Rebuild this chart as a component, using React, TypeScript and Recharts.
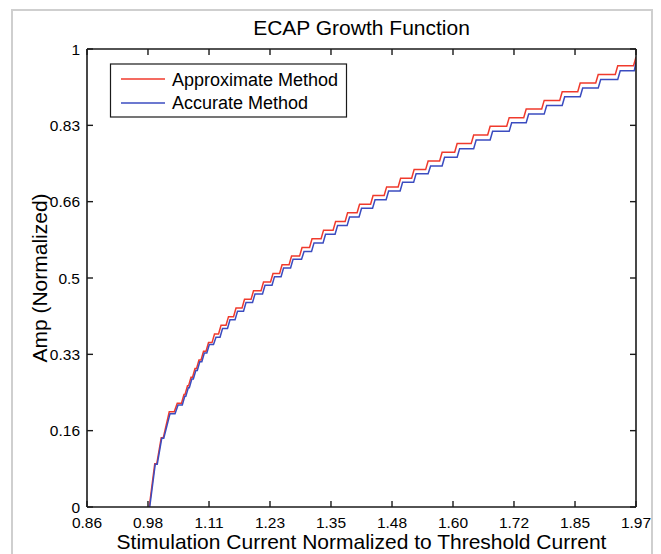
import { LineChart, Line, XAxis, YAxis } from 'recharts'

const xTicks = [0.86, 0.9833, 1.1067, 1.23, 1.3533, 1.4767, 1.6, 1.7233, 1.8467, 1.97]
const xTickLabels = ['0.86', '0.98', '1.11', '1.23', '1.35', '1.48', '1.60', '1.72', '1.85', '1.97']
const yTicks = [0, 0.1667, 0.3333, 0.5, 0.6667, 0.8333, 1]
const yTickLabels = ['0', '0.16', '0.33', '0.5', '0.66', '0.83', '1']

const seriesNames = ['Approximate Method', 'Accurate Method']
const seriesColors = ['#f03a2c', '#3b4cc0']

// staircase corners: [current, amp]
const approxCurve: [number, number][] = [
  [0.9858, 0], [0.997, 0.0944], [1.001, 0.0944], [1.0101, 0.1511], [1.0142, 0.1511],
  [1.0263, 0.2078], [1.0364, 0.2078], [1.0425, 0.2267], [1.0511, 0.2267], [1.0561, 0.2456],
  [1.0582, 0.2456], [1.0632, 0.2645], [1.0653, 0.2645], [1.0703, 0.2834],
  [1.0734, 0.2834], [1.0784, 0.3022], [1.0814, 0.3022], [1.0864, 0.3211],
  [1.0906, 0.3211], [1.0956, 0.34], [1.1007, 0.34], [1.1057, 0.3589],
  [1.1128, 0.3589], [1.1178, 0.3778], [1.126, 0.3778], [1.131, 0.3967],
  [1.1411, 0.3967], [1.1461, 0.4156], [1.1563, 0.4156], [1.1613, 0.4345],
  [1.1735, 0.4345], [1.1785, 0.4534], [1.1917, 0.4534], [1.1967, 0.4723],
  [1.2119, 0.4723], [1.2169, 0.4911], [1.2311, 0.4911], [1.2361, 0.51],
  [1.2494, 0.51], [1.2544, 0.5289], [1.2686, 0.5289], [1.2736, 0.5478],
  [1.2898, 0.5478], [1.2948, 0.5667], [1.31, 0.5667], [1.315, 0.5856],
  [1.3333, 0.5856], [1.3383, 0.6045], [1.3576, 0.6045], [1.3626, 0.6234],
  [1.3819, 0.6234], [1.3869, 0.6423], [1.4061, 0.6423], [1.4111, 0.6612],
  [1.4334, 0.6612], [1.4384, 0.68], [1.4608, 0.68], [1.4658, 0.6989],
  [1.4891, 0.6989], [1.4941, 0.7178], [1.5164, 0.7178], [1.5214, 0.7367],
  [1.5447, 0.7367], [1.5497, 0.7556], [1.573, 0.7556], [1.578, 0.7745],
  [1.6034, 0.7745], [1.6084, 0.7934], [1.6368, 0.7934], [1.6418, 0.8123],
  [1.6701, 0.8123], [1.6751, 0.8312], [1.7086, 0.8312], [1.7136, 0.8501],
  [1.743, 0.8501], [1.748, 0.8689], [1.7794, 0.8689], [1.7844, 0.8878],
  [1.8158, 0.8878], [1.8208, 0.9067], [1.8522, 0.9067], [1.8572, 0.9256],
  [1.8886, 0.9256], [1.8936, 0.9445], [1.9281, 0.9445], [1.9331, 0.9634],
  [1.965, 0.9634], [1.97, 0.9823],
]

const accurateCurve: [number, number][] = [
  [0.9868, 0], [0.998, 0.0934], [1.002, 0.0934], [1.0111, 0.1501], [1.0152, 0.1501],
  [1.0279, 0.2038], [1.038, 0.2038], [1.0441, 0.2227], [1.0527, 0.2227], [1.0577, 0.2416],
  [1.0598, 0.2416], [1.0648, 0.2605], [1.0669, 0.2605], [1.0719, 0.2794],
  [1.075, 0.2794], [1.08, 0.2982], [1.083, 0.2982], [1.088, 0.3171],
  [1.0922, 0.3171], [1.0972, 0.336], [1.1023, 0.336], [1.1073, 0.3549],
  [1.1158, 0.3549], [1.1208, 0.3708], [1.129, 0.3708], [1.134, 0.3897],
  [1.1441, 0.3897], [1.1491, 0.4086], [1.1593, 0.4086], [1.1643, 0.4275],
  [1.1765, 0.4275], [1.1815, 0.4464], [1.1947, 0.4464], [1.1997, 0.4653],
  [1.2149, 0.4653], [1.2199, 0.4841], [1.2341, 0.4841], [1.2391, 0.503],
  [1.2524, 0.503], [1.2574, 0.5219], [1.2716, 0.5219], [1.2766, 0.5408],
  [1.2938, 0.5408], [1.2988, 0.5577], [1.314, 0.5577], [1.319, 0.5766],
  [1.3373, 0.5766], [1.3423, 0.5955], [1.3616, 0.5955], [1.3666, 0.6144],
  [1.3859, 0.6144], [1.3909, 0.6333], [1.4101, 0.6333], [1.4151, 0.6522],
  [1.4374, 0.6522], [1.4424, 0.671], [1.4648, 0.671], [1.4698, 0.6899],
  [1.4931, 0.6899], [1.4981, 0.7088], [1.5204, 0.7088], [1.5254, 0.7277],
  [1.5497, 0.7277], [1.5547, 0.7446], [1.578, 0.7446], [1.583, 0.7635],
  [1.6084, 0.7635], [1.6134, 0.7824], [1.6418, 0.7824], [1.6468, 0.8013],
  [1.6751, 0.8013], [1.6801, 0.8202], [1.7136, 0.8202], [1.7186, 0.8391],
  [1.748, 0.8391], [1.753, 0.8579], [1.7844, 0.8579], [1.7894, 0.8768],
  [1.8208, 0.8768], [1.8258, 0.8957], [1.8572, 0.8957], [1.8622, 0.9146],
  [1.8936, 0.9146], [1.8986, 0.9335], [1.9331, 0.9335], [1.9381, 0.9524],
  [1.9665, 0.9524], [1.97, 0.9713],
]

const toRows = (pts: [number, number][]) => pts.map(([current, amp]) => ({ current, amp }))
const seriesData = [toRows(approxCurve), toRows(accurateCurve)]

const AXIS = '#1a1a1a'
const FONT = '"Liberation Sans", Arial, Helvetica, sans-serif'

const xLabel = (v: number) => {
  const i = xTicks.indexOf(v)
  return i >= 0 ? xTickLabels[i] : ''
}
const yLabel = (v: number) => {
  const i = yTicks.indexOf(v)
  return i >= 0 ? yTickLabels[i] : ''
}

const xAxisCommon = {
  type: 'number' as const,
  dataKey: 'current',
  domain: [0.86, 1.97],
  ticks: xTicks,
  allowDataOverflow: true,
  tickSize: -6,
  axisLine: { stroke: AXIS, strokeWidth: 1.6 },
  tickLine: { stroke: AXIS, strokeWidth: 1.4 },
}

const yAxisCommon = {
  type: 'number' as const,
  domain: [0, 1],
  ticks: yTicks,
  allowDataOverflow: true,
  tickSize: -6,
  axisLine: { stroke: AXIS, strokeWidth: 1.6 },
  tickLine: { stroke: AXIS, strokeWidth: 1.4 },
}

export default function App() {
  return (
    <div
      style={{
        position: 'absolute',
        left: 0,
        top: 0,
        width: 661,
        height: 554,
        overflow: 'hidden',
        background: '#fff',
        fontFamily: FONT,
      }}
    >
      <LineChart
        width={661}
        height={554}
        margin={{ top: 47, right: 23, bottom: 0, left: 0 }}
      >
        <XAxis
          {...xAxisCommon}
          height={47}
          tickMargin={16}
          tickFormatter={xLabel}
          tick={{ fill: '#000', fontSize: 15.5 }}
          label={{
            value: 'Stimulation Current Normalized to Threshold Current',
            position: 'insideBottom',
            offset: 5,
            fill: '#000',
            fontSize: 21,
          }}
        />
        <XAxis
          {...xAxisCommon}
          xAxisId="top"
          orientation="top"
          height={2}
          tickFormatter={() => ''}
        />
        <YAxis
          {...yAxisCommon}
          width={87}
          tickMargin={13}
          tickFormatter={yLabel}
          tick={{ fill: '#000', fontSize: 15.5 }}
          label={{
            value: 'Amp (Normalized)',
            angle: -90,
            position: 'insideLeft',
            offset: 40,
            fill: '#000',
            fontSize: 21,
            style: { textAnchor: 'middle' },
          }}
        />
        <YAxis
          {...yAxisCommon}
          yAxisId="right"
          orientation="right"
          width={2}
          tickFormatter={() => ''}
        />
        {seriesData.map((rows, i) => (
          <Line
            key={seriesNames[i]}
            data={rows}
            dataKey="amp"
            name={seriesNames[i]}
            type="linear"
            stroke={seriesColors[i]}
            strokeWidth={1.5}
            dot={false}
            activeDot={false}
            isAnimationActive={false}
          />
        ))}
      </LineChart>

      <svg
        width={661}
        height={554}
        style={{ position: 'absolute', left: 0, top: 0, pointerEvents: 'none' }}
      >
        <rect x={12} y={10} width={640} height={600} fill="none" stroke="#cfcfcf" strokeWidth={2} />
        <text x={361.5} y={35} textAnchor="middle" fontSize={21} fill="#000" fontFamily={FONT}>
          ECAP Growth Function
        </text>
        <rect x={110.5} y={64} width={236} height={53} fill="#fff" stroke={AXIS} strokeWidth={1.2} />
        {seriesNames.map((name, i) => (
          <g key={name}>
            <line
              x1={121}
              x2={165}
              y1={79 + i * 24}
              y2={79 + i * 24}
              stroke={seriesColors[i]}
              strokeWidth={1.5}
            />
            <text x={172} y={86 + i * 23} fontSize={18} fill="#000" fontFamily={FONT}>
              {name}
            </text>
          </g>
        ))}
      </svg>
    </div>
  )
}
